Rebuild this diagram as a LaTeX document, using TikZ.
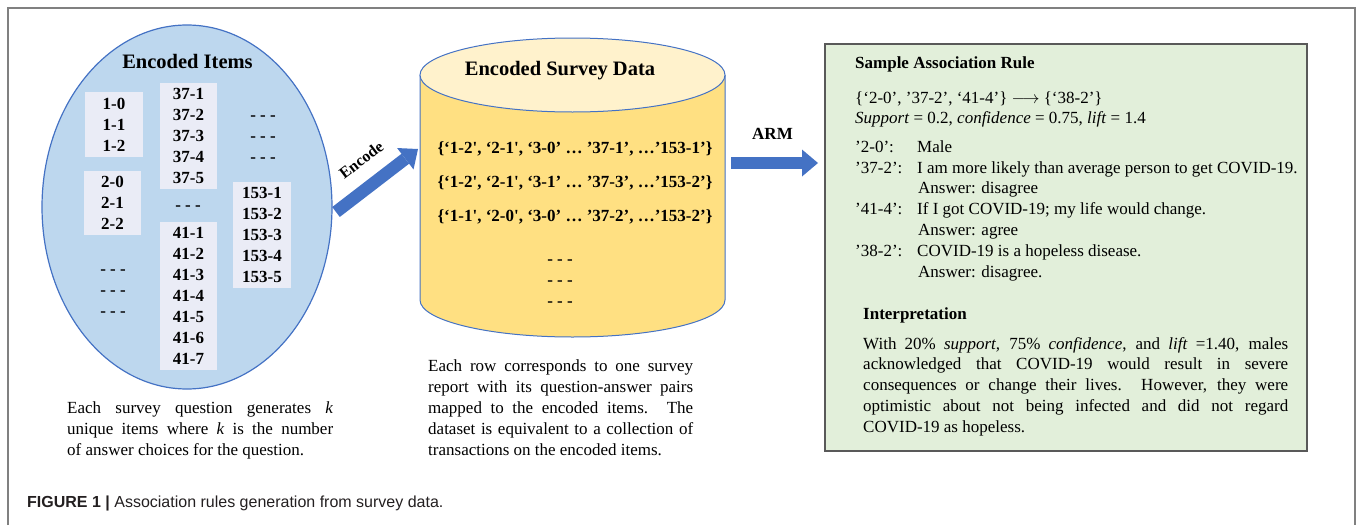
\documentclass[tikz,border=0pt]{standalone}
\usepackage{fontspec}
\setmainfont{Liberation Serif}
\newfontfamily\capfont{Liberation Sans}
\usetikzlibrary{arrows.meta,shapes.geometric}

\definecolor{edgeblue}{RGB}{68,114,196}
\definecolor{itemblue}{RGB}{189,215,238}
\definecolor{boxfill}{RGB}{234,236,246}
\definecolor{dbbody}{RGB}{255,224,130}
\definecolor{dbtop}{RGB}{255,242,204}
\definecolor{rulegreen}{RGB}{226,239,218}
\definecolor{rulegray}{RGB}{89,89,89}
\definecolor{framegray}{RGB}{128,128,128}
\definecolor{captext}{RGB}{35,31,32}

\tikzset{
  itembox/.style={fill=boxfill, inner sep=0, minimum width=58, align=center,
    font=\fontsize{17}{21}\selectfont\bfseries},
  dashcol/.style={inner sep=0, align=center, font=\fontsize{17}{21}\selectfont\bfseries},
  fatarrow/.style={edgeblue, line width=12.5, -{Triangle[length=16pt,width=27pt,line width=0pt]}},
  notetext/.style={anchor=base west, inner sep=0, align=justify, font=\fontsize{17}{21}\selectfont},
  plaintext/.style={anchor=base west, inner sep=0, align=left},
}

\begin{document}
\begin{tikzpicture}[x=1pt, y=-1pt]
\useasboundingbox (0,0) rectangle (1358,525);
\draw[framegray, line width=1.5] (8,525) -- (8,8) -- (1355,8) -- (1355,525);

\node (items) [ellipse, draw=edgeblue, fill=itemblue, line width=1.2, minimum width=290, minimum height=364, inner sep=0] at (187,207) {};
\node (itemstitle) [anchor=base, inner sep=0, font=\fontsize{20.5}{20}\selectfont\bfseries] at (187.5,68.5) {Encoded Items};

\node (box1) [itembox, minimum height=65] at (114,124.5) {1-0\\1-1\\1-2};
\node (box2) [itembox, minimum height=64, minimum width=57] at (112.5,203) {2-0\\2-1\\2-2};
\node (box37) [itembox, minimum height=106, minimum width=57] at (188.5,136) {37-1\\37-2\\37-3\\37-4\\37-5};
\node (box41) [itembox, minimum height=148, minimum width=57] at (188.5,296) {41-1\\41-2\\41-3\\41-4\\41-5\\41-6\\41-7};
\node (box153) [itembox, minimum height=106] at (262,235) {153-1\\153-2\\153-3\\153-4\\153-5};
\node (dots1) [dashcol] at (263,139) {- - -\\- - -\\- - -};
\node (dots2) [dashcol] at (188,208) {- - -};
\node (dots3) [dashcol] at (113,293) {- - -\\- - -\\- - -};

\node (itemsnote) [notetext, text width=266] at (67,413) {Each survey question generates \textit{k}\linebreak unique items where \textit{k} is the number\linebreak of answer choices for the question.};

\draw[edgeblue, line width=1, fill=dbbody] (420,75) -- (420,300) arc[start angle=180, end angle=0, x radius=152.5, y radius=37] -- (725,75);
\draw[edgeblue, line width=1, fill=dbtop] (572.5,75) ellipse[x radius=152.5, y radius=37];
\coordinate (db) at (572.5,188);
\node (dbtitle) [anchor=base, inner sep=0, font=\fontsize{20.5}{20}\selectfont\bfseries] at (560,75) {Encoded Survey Data};
\node (rows) [anchor=base, inner sep=0, align=center, font=\fontsize{17}{34}\selectfont\bfseries] at (575,221)
  {\{‘1-2\textquotesingle, ‘2-1\textquotesingle, ‘3-0’ … ’37-1’, …’153-1’\}\\
   \{‘1-2\textquotesingle, ‘2-1\textquotesingle, ‘3-1’ … ’37-3’, …’153-2’\}\\
   \{‘1-1\textquotesingle, ‘2-0\textquotesingle, ‘3-0’ … ’37-2’, …’153-2’\}};
\node (dbdots) [dashcol] at (560,283) {- - -\\- - -\\- - -};

\node (dbnote) [notetext, text width=265] at (428,371) {Each row corresponds to one survey\linebreak report with its question-answer pairs\linebreak mapped to the encoded items. The\linebreak dataset is equivalent to a collection of\linebreak transactions on the encoded items.};

\coordinate (enc1) at (336,212);
\coordinate (enc2) at (418,149);
\draw[fatarrow] (enc1) -- node[sloped, above=14, inner sep=0, text=black, font=\fontsize{16}{16}\selectfont\bfseries] {Encode} (enc2);

\coordinate (arm1) at (731,163);
\coordinate (arm2) at (818,163);
\draw[fatarrow] (arm1) -- node[above=17, xshift=-2, inner sep=0, text=black, font=\fontsize{17}{17}\selectfont\bfseries] {ARM} (arm2);

\node (rule) [draw=rulegray, fill=rulegreen, line width=1.2, minimum width=482, minimum height=407, inner sep=0] at (1066,247.5) {};
\node (ruletitle) [plaintext, font=\fontsize{17}{17}\selectfont\bfseries] at (855,68) {Sample Association Rule};
\node (rulehead) [plaintext, font=\fontsize{17}{20}\selectfont] at (855,123)
  {\{‘2-0’, ’37-2’, ‘41-4’\} $\longrightarrow$ \{‘38-2’\}\\
   \textit{Support} = 0.2, \textit{confidence} = 0.75, \textit{lift} = 1.4};
\node (rulelist) [plaintext, font=\fontsize{17}{20.8}\selectfont] at (855,277)
  {\makebox[62pt][l]{’2-0’:}Male\\
   \makebox[62pt][l]{’37-2’:}I am more likely than average person to get COVID-19.\\
   \hspace*{63pt}Answer: disagree\\
   \makebox[62pt][l]{’41-4’:}If I got COVID-19; my life would change.\\
   \hspace*{63pt}Answer: agree\\
   \makebox[62pt][l]{’38-2’:}COVID-19 is a hopeless disease.\\
   \hspace*{63pt}Answer: disagree.};
\node (interp) [plaintext, font=\fontsize{17}{17}\selectfont\bfseries] at (863,319) {Interpretation};
\node (interptext) [notetext, text width=425, font=\fontsize{17}{20.8}\selectfont] at (863,349)
  {With 20\% \textit{support,} 75\% \textit{confidence}, and \textit{lift} =1.40, males\linebreak
   acknowledged that COVID-19 would result in severe\linebreak
   consequences or change their lives. However, they were\linebreak
   optimistic about not being infected and did not regard\linebreak
   COVID-19 as hopeless.};

\node (figcap) [plaintext, text=captext, font=\capfont\fontsize{16}{16}\selectfont] at (27,507) {\textbf{FIGURE 1 |} Association rules generation from survey data.};
\end{tikzpicture}
\end{document}
